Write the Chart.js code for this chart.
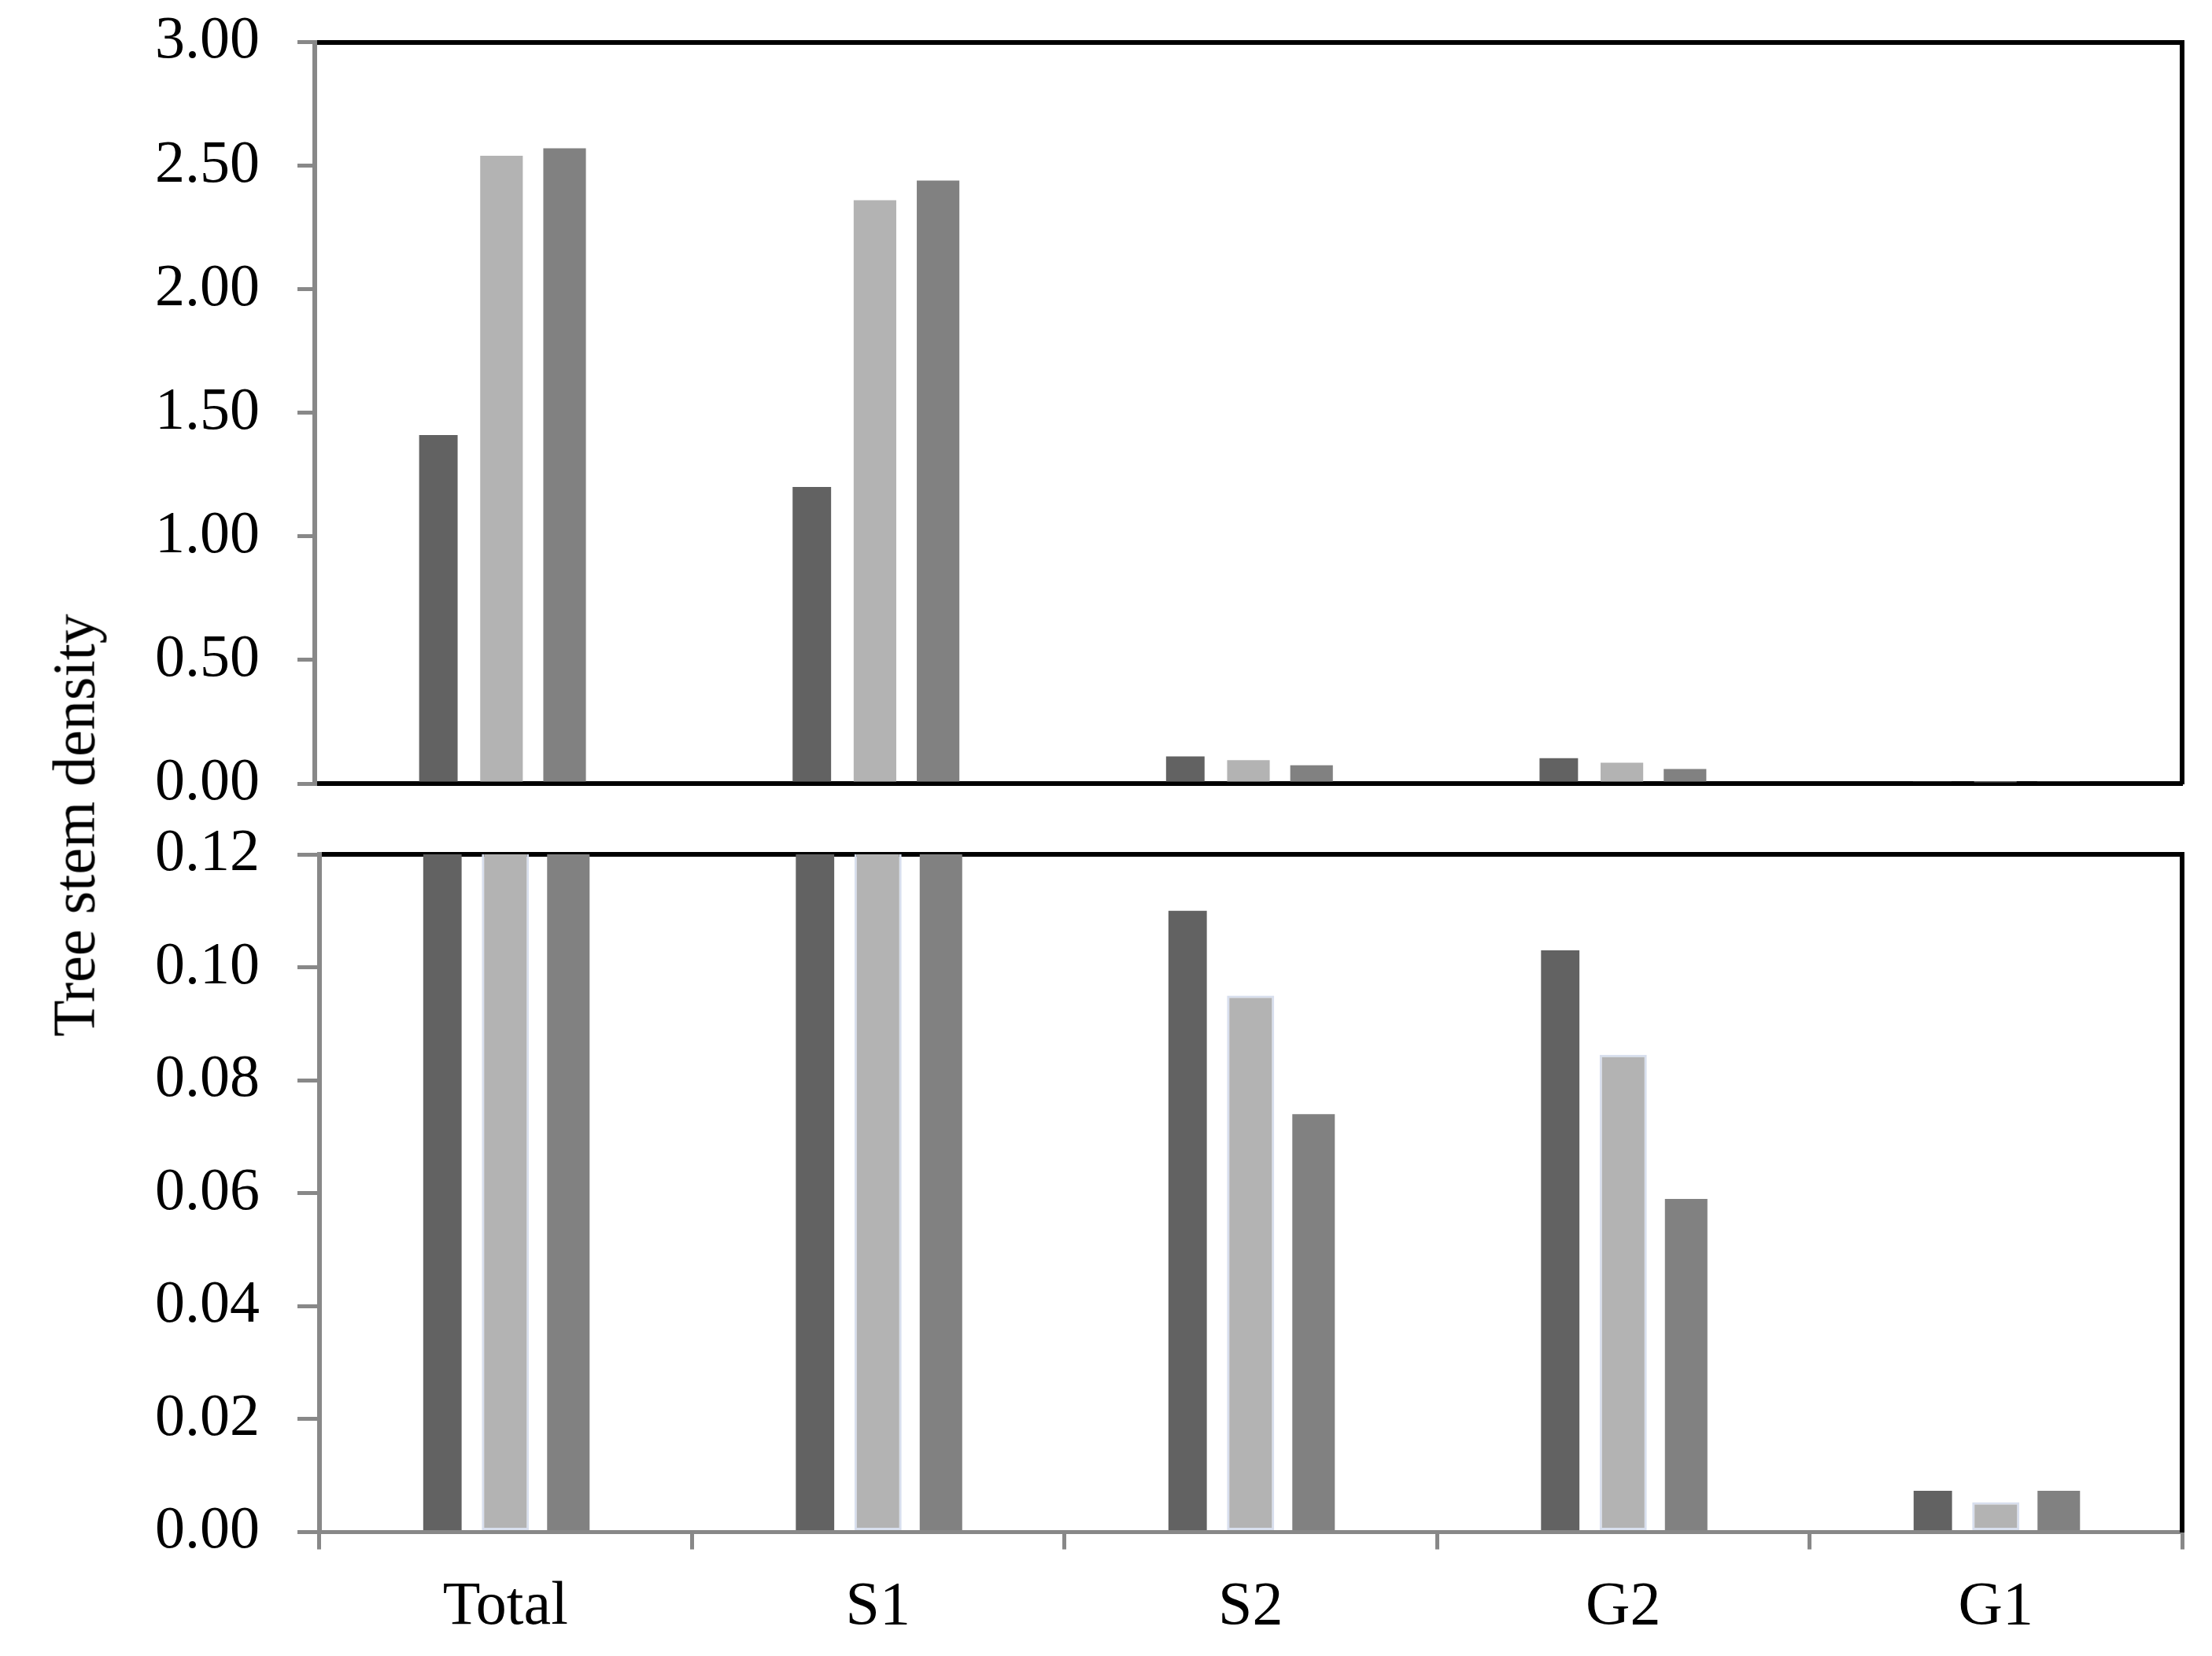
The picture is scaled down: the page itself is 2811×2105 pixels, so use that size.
<!DOCTYPE html>
<html>
<head>
<meta charset="utf-8">
<title>Tree stem density</title>
<script src="https://cdn.jsdelivr.net/npm/chart.js@4.4.1/dist/chart.umd.min.js"></script>
<style>
  html, body { margin: 0; padding: 0; background: #fff; }
  body { position: relative; width: 2811px; height: 2105px; overflow: hidden; }
  #topPanel { position: absolute; left: 0; top: 0; }
  #bottomPanel { position: absolute; left: 0; top: 1050px; }
  .y-title {
    position: absolute; left: 94px; top: 1049px;
    transform: translate(-50%, -50%) rotate(-90deg);
    font-family: 'Liberation Serif', 'Times New Roman', serif;
    font-size: 76px; color: #000; white-space: nowrap;
  }
</style>
</head>
<body>
<canvas id="topPanel" width="2811" height="1050"></canvas>
<canvas id="bottomPanel" width="2811" height="1055"></canvas>
<div class="y-title">Tree stem density</div>

<script>
// data (same three series in both panels, lower one zoomed in)
const categories = ['Total', 'S1', 'S2', 'G2', 'G1'];
const seriesDark = [1.41, 1.20, 0.110, 0.103, 0.0073];
const seriesLight = [2.54, 2.36, 0.095, 0.0845, 0.0053];
const seriesMid = [2.57, 2.44, 0.074, 0.059, 0.0073];

// y ranges: [min, max, step]
const topRange = [0, 3, 0.5];
const bottomRange = [0, 0.12, 0.02];

const DARK = '#626262';
const LIGHT = '#b3b3b3';
const MID = '#818181';
const AXIS_GREY = '#888888';
const SERIF = "'Liberation Serif', 'Times New Roman', serif";

Chart.defaults.font.family = SERIF;
Chart.defaults.color = '#000';

function makeDatasets(lower) {
  return [
    { label: 'Series 1', data: seriesDark, backgroundColor: DARK, barPercentage: 0.61, clip: 0 },
    {
      label: 'Series 2', data: seriesLight, backgroundColor: LIGHT, clip: 0,
      barPercentage: lower ? 0.75 : 0.675,
      borderColor: lower ? '#d8dfee' : LIGHT,
      borderWidth: lower ? 3 : 0,
      borderSkipped: false
    },
    { label: 'Series 3', data: seriesMid, backgroundColor: MID, barPercentage: 0.675, clip: 0 }
  ];
}

// no extra room for half labels at the ends of an axis
function noOverhang(s) {
  s.paddingTop = 0;
  s.paddingBottom = 0;
  s.paddingLeft = 0;
  s.paddingRight = 0;
}

// plain black frame line made from a tick-less axis
function frameAxis(type, position, fitKey) {
  return {
    type: type, position: position, z: 1,
    grid: { display: false },
    ticks: { display: false },
    border: { color: '#000', width: 6 },
    afterFit: s => { s[fitKey] = 0; noOverhang(s); }
  };
}

function yAxis(range, axisWidth, tickLen) {
  return {
    min: range[0], max: range[1],
    ticks: {
      stepSize: range[2],
      callback: v => Number(v).toFixed(2),
      padding: 48,
      color: '#000',
      font: { size: 76 }
    },
    grid: { drawOnChartArea: false, drawTicks: true, tickLength: tickLen, color: AXIS_GREY, lineWidth: 5 },
    border: { color: AXIS_GREY, width: 6 },
    afterFit: s => { s.width = axisWidth; noOverhang(s); }
  };
}

const common = {
  responsive: false,
  animation: false,
  devicePixelRatio: 1,
  plugins: { legend: { display: false }, tooltip: { enabled: false } },
  datasets: { bar: { categoryPercentage: 0.507 } }
};

// upper panel, full range
new Chart(document.getElementById('topPanel'), {
  type: 'bar',
  data: { labels: categories, datasets: makeDatasets(false) },
  options: {
    ...common,
    layout: { padding: { left: 0, right: 38, top: 53.5, bottom: 54 } },
    scales: {
      x: {
        grid: { display: false },
        ticks: { display: false },
        border: { color: '#000', width: 6 },
        afterFit: s => { s.height = 0; noOverhang(s); }
      },
      xTop: frameAxis('category', 'top', 'height'),
      y: yAxis(topRange, 400, 22),
      yRight: frameAxis('linear', 'right', 'width')
    }
  }
});

// lower panel, zoomed to 0 - 0.12
new Chart(document.getElementById('bottomPanel'), {
  type: 'bar',
  data: { labels: categories, datasets: makeDatasets(true) },
  options: {
    ...common,
    layout: { padding: { left: 0, right: 38, top: 36, bottom: 0 } },
    scales: {
      x: {
        grid: { display: true, offset: true, drawOnChartArea: false, drawTicks: true, tickLength: 22, color: AXIS_GREY, lineWidth: 5 },
        ticks: { padding: 27, color: '#000', font: { size: 78 } },
        border: { color: AXIS_GREY, width: 5 },
        afterFit: s => { s.height = 157.5; noOverhang(s); }
      },
      xTop: frameAxis('category', 'top', 'height'),
      y: yAxis(bottomRange, 405.5, 27.5),
      yRight: frameAxis('linear', 'right', 'width')
    }
  }
});
</script>
</body>
</html>
